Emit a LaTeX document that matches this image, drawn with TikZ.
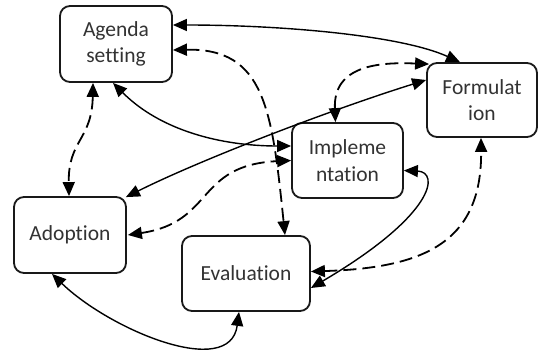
\documentclass[tikz,border=0pt]{standalone}
\usepackage{fontspec}
\setmainfont{Carlito}[Ligatures=NoCommon]
\usetikzlibrary{arrows.meta}
\begin{document}
\begin{tikzpicture}[x=1pt,y=-1pt,
  box/.style={draw=black!90, line width=1.8pt, rounded corners=10pt, fill=white,
    inner sep=0pt, align=center, text=black!80,
    font=\fontsize{21.5}{26.5}\selectfont},
  conn/.style={line width=1.4pt,
    {Triangle[length=14pt,width=12pt]}-{Triangle[length=14pt,width=12pt]}},
  dashline/.style={conn, line width=1.8pt, dash pattern=on 13pt off 6pt}]
\useasboundingbox (0,0) rectangle (542,350);

\node[box, minimum width=112pt, minimum height=76pt] (ag) at (116,44) {Agenda\\setting};
\node[box, minimum width=110pt, minimum height=74pt] (fo) at (482,100) {Formulat\\ion};
\node[box, minimum width=111pt, minimum height=75pt] (im) at (347.5,160.5) {Impleme\\ntation};
\node[box, minimum width=112pt, minimum height=76pt] (ad) at (70,235) {Adoption};
\node[box, minimum width=128pt, minimum height=75pt] (ev) at (246,273.5) {Evaluation};

% Agenda <-> Formulation
\draw[conn] ([yshift=19pt]ag.east) .. controls (280,25) and (400,35) .. ([xshift=-22pt]fo.north);
% Agenda <-> Evaluation
\draw[dashline] ([yshift=-6pt]ag.east) .. controls (265,48) and (272,110) .. ([xshift=39pt]ev.north);
% Agenda <-> Implementation
\draw[conn] ([xshift=-3pt]ag.south) .. controls (160,130) and (220,146) .. ([yshift=14.5pt]im.west);
% Agenda <-> Adoption
\draw[dashline] ([xshift=-23pt]ag.south) .. controls (92,140) and (68,140) .. ([xshift=-1pt]ad.north);
% Adoption <-> Formulation
\draw[conn] ([xshift=-1pt,yshift=-1pt]ad.north east) .. controls (200,160) and (330,110) .. ([yshift=20pt]fo.west);
% Adoption <-> Implementation
\draw[dashline] ([xshift=1pt]ad.east) .. controls (215,222) and (195,165) .. (im.west);
% Implementation <-> Formulation
\draw[dashline] ([xshift=-12pt]im.north) .. controls (333,65) and (380,62) .. ([xshift=3pt,yshift=-2pt]fo.north west);
% Implementation <-> Evaluation
\draw[conn] ([yshift=-10pt]im.east) .. controls (440,172) and (435,215) .. ([yshift=-14.5pt]ev.east);
% Evaluation <-> Formulation
\draw[dashline] ([yshift=2pt]ev.east) .. controls (420,268) and (482,245) .. ([xshift=-1pt]fo.south);
% Adoption <-> Evaluation
\draw[conn] ([xshift=-18pt]ad.south) .. controls (110,330) and (230,380) .. ([xshift=-7pt]ev.south);
\end{tikzpicture}
\end{document}
